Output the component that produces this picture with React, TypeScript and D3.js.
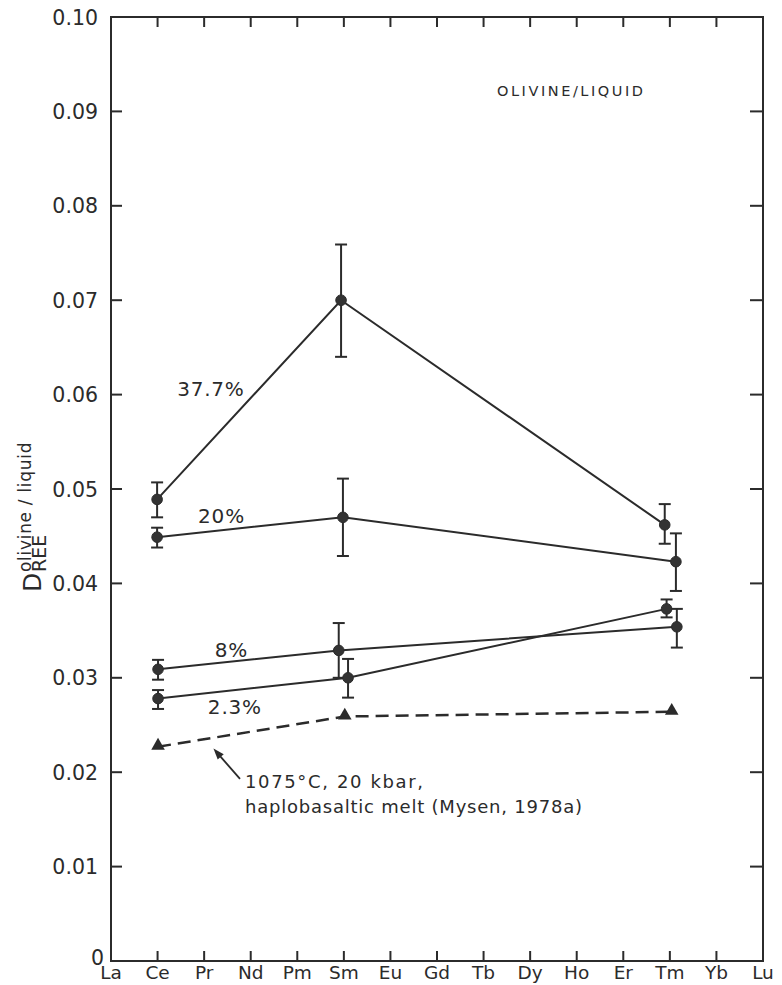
import React from "react";
import * as d3 from "d3";

const elements = ["La", "Ce", "Pr", "Nd", "Pm", "Sm", "Eu", "Gd", "Tb", "Dy", "Ho", "Er", "Tm", "Yb", "Lu"];
const yTicks = [0, 0.01, 0.02, 0.03, 0.04, 0.05, 0.06, 0.07, 0.08, 0.09, 0.1];
const yTickLabels = ["0", "0.01", "0.02", "0.03", "0.04", "0.05", "0.06", "0.07", "0.08", "0.09", "0.10"];

const seriesLabels = ["37.7%", "20%", "8%", "2.3%"];
// x in element-index units (La = 0)
const seriesX = [
  [0.99, 4.94, 11.89],
  [0.99, 4.98, 12.13],
  [1.01, 4.89, 12.15],
  [1.01, 5.09, 11.93],
];
const seriesY = [
  [0.0489, 0.07, 0.0462],
  [0.0449, 0.047, 0.0423],
  [0.0309, 0.0329, 0.0354],
  [0.0278, 0.03, 0.0373],
];
const seriesLo = [
  [0.047, 0.064, 0.0442],
  [0.0438, 0.0429, 0.0392],
  [0.0298, 0.03, 0.0332],
  [0.0267, 0.0279, 0.0364],
];
const seriesHi = [
  [0.0507, 0.0759, 0.0484],
  [0.0459, 0.0511, 0.0453],
  [0.0319, 0.0358, 0.0373],
  [0.0287, 0.032, 0.0383],
];
// label anchor positions in data units [elementX, value] (text start, baseline)
const labelPos = [
  [1.42, 0.0599],
  [1.87, 0.0464],
  [2.23, 0.0322],
  [2.08, 0.0262],
];

const mysenX = [1.01, 5.02, 12.04];
const mysenY = [0.0227, 0.0259, 0.0264];
const mysenNote = ["1075°C, 20 kbar,", "haplobasaltic melt (Mysen, 1978a)"];
const panelTitle = "OLIVINE/LIQUID";

const INK = "#2b2b2b";
const FONT = "'DejaVu Sans', sans-serif";

export default function App() {
  const left = 111;
  const right = 763;
  const top = 17;
  const bottom = 961;

  const x = d3.scaleLinear().domain([0, elements.length - 1]).range([left, right]);
  const y = d3.scaleLinear().domain([0, 0.1]).range([bottom, top]);

  const line = d3
    .line<[number, number]>()
    .x((d) => x(d[0]))
    .y((d) => y(d[1]));

  const tri = d3.symbol(d3.symbolTriangle, 80)() as string;

  // arrow geometry (data units)
  const arrowFrom: [number, number] = [2.77, 0.0193];
  const arrowTo: [number, number] = [2.2, 0.0225];
  const ax1 = x(arrowFrom[0]);
  const ay1 = y(arrowFrom[1]);
  const ax2 = x(arrowTo[0]);
  const ay2 = y(arrowTo[1]);
  const ang = Math.atan2(ay2 - ay1, ax2 - ax1);
  const ah = 11;
  const aw = 4;
  const headPts = [
    [ax2, ay2],
    [ax2 - ah * Math.cos(ang) + aw * Math.sin(ang), ay2 - ah * Math.sin(ang) - aw * Math.cos(ang)],
    [ax2 - ah * Math.cos(ang) - aw * Math.sin(ang), ay2 - ah * Math.sin(ang) + aw * Math.cos(ang)],
  ]
    .map((p) => p.join(","))
    .join(" ");

  return (
    <svg width={782} height={985} style={{ position: "absolute", left: 0, top: 0, background: "#fff" }} fontFamily={FONT}>
      <rect x={0} y={0} width={782} height={985} fill="#fff" />
      {/* frame */}
      <rect x={left} y={top} width={right - left} height={bottom - top} fill="none" stroke={INK} strokeWidth={2} />

      {/* x ticks top & bottom */}
      {elements.map((el, i) =>
        i > 0 && i < elements.length - 1 ? (
          <g key={"xt" + el}>
            <line x1={x(i)} x2={x(i)} y1={bottom} y2={bottom - 10} stroke={INK} strokeWidth={2} />
            <line x1={x(i)} x2={x(i)} y1={top} y2={top + 10} stroke={INK} strokeWidth={2} />
          </g>
        ) : null
      )}
      {elements.map((el, i) => (
        <text key={"xl" + el} x={x(i)} y={bottom + 18} textAnchor="middle" fontSize={18.5} fill={INK}>
          {el}
        </text>
      ))}

      {/* y ticks left & right */}
      {yTicks.map((t, i) =>
        i > 0 && i < yTicks.length - 1 ? (
          <g key={"yt" + i}>
            <line x1={left} x2={left + 11} y1={y(t)} y2={y(t)} stroke={INK} strokeWidth={2} />
            <line x1={right} x2={right - 13} y1={y(t)} y2={y(t)} stroke={INK} strokeWidth={2} />
          </g>
        ) : null
      )}
      {yTicks.map((t, i) => (
        <text
          key={"yl" + i}
          x={i === 0 ? left - 7 : left - 13}
          y={y(t) + (i === 0 ? 4 : 7.5)}
          textAnchor="end"
          fontSize={20.5}
          fill={INK}
        >
          {yTickLabels[i]}
        </text>
      ))}

      {/* y axis title */}
      <g transform="translate(41, 592) rotate(-90)" fill={INK}>
        <text x={0} y={0} fontSize={25}>D</text>
        <text x={20} y={-10} fontSize={17} letterSpacing={0.7}>olivine / liquid</text>
        <text x={20} y={5} fontSize={19}>REE</text>
      </g>

      {/* panel title */}
      <text x={497} y={96} fontSize={14.5} textLength={146} lengthAdjust="spacing" fill={INK}>
        {panelTitle}
      </text>

      {/* series */}
      {seriesLabels.map((lab, s) => {
        const pts = seriesX[s].map((xv, k) => [xv, seriesY[s][k]] as [number, number]);
        return (
          <g key={lab}>
            <path d={line(pts) as string} fill="none" stroke={INK} strokeWidth={2} />
            {pts.map((p, k) => (
              <g key={k}>
                <line x1={x(p[0])} x2={x(p[0])} y1={y(seriesLo[s][k])} y2={y(seriesHi[s][k])} stroke={INK} strokeWidth={2} />
                <line x1={x(p[0]) - 6} x2={x(p[0]) + 6} y1={y(seriesLo[s][k])} y2={y(seriesLo[s][k])} stroke={INK} strokeWidth={2} />
                <line x1={x(p[0]) - 6} x2={x(p[0]) + 6} y1={y(seriesHi[s][k])} y2={y(seriesHi[s][k])} stroke={INK} strokeWidth={2} />
                <circle cx={x(p[0])} cy={y(p[1])} r={5.3} fill="#333" stroke={INK} strokeWidth={1} />
              </g>
            ))}
            <text x={x(labelPos[s][0])} y={y(labelPos[s][1])} fontSize={20} letterSpacing={0.8} fill={INK}>
              {lab}
            </text>
          </g>
        );
      })}

      {/* Mysen 1978a dashed line */}
      <path
        d={line(mysenX.map((xv, k) => [xv, mysenY[k]] as [number, number])) as string}
        fill="none"
        stroke={INK}
        strokeWidth={2.5}
        strokeDasharray="13 7"
      />
      {mysenX.map((xv, k) => (
        <path key={"tri" + k} d={tri} transform={`translate(${x(xv)},${y(mysenY[k]) - 1})`} fill={INK} />
      ))}

      {/* arrow */}
      <line x1={ax1} y1={ay1} x2={ax2 - 6 * Math.cos(ang)} y2={ay2 - 6 * Math.sin(ang)} stroke={INK} strokeWidth={1.8} />
      <polygon points={headPts} fill={INK} />
      <text x={245} y={788} fontSize={18} textLength={178} lengthAdjust="spacing" fill={INK}>
        {mysenNote[0]}
      </text>
      <text x={245} y={813} fontSize={18} textLength={337} lengthAdjust="spacing" fill={INK}>
        {mysenNote[1]}
      </text>
    </svg>
  );
}
